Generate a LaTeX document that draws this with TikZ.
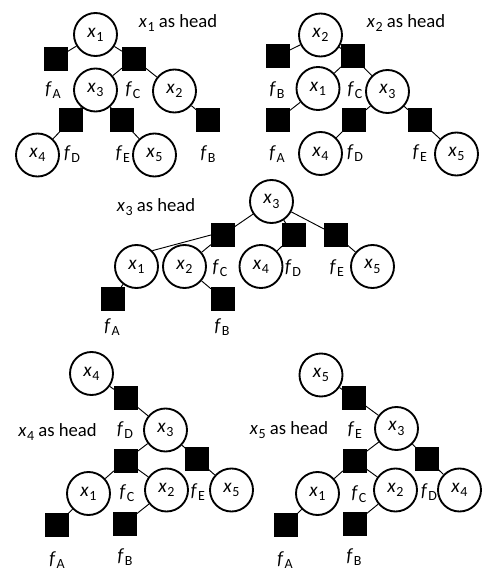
\documentclass[tikz,border=0pt]{standalone}
\usepackage{fontspec}
\setmainfont{Carlito}
\newcommand{\vsb}[2]{\textit{#1}\kern0.03em\raisebox{-0.45ex}{\fontsize{10.5}{11}\selectfont #2}}
\begin{document}
\begin{tikzpicture}[x=0.75pt,y=-0.75pt,
  var/.style={circle,draw,line width=1.4pt,minimum size=32.25pt,inner sep=0pt,font=\fontsize{14.5}{15}\selectfont},
  fac/.style={rectangle,fill=black,draw=black,minimum size=17pt,inner sep=0pt},
  lab/.style={inner sep=0pt,font=\fontsize{14}{15}\selectfont},
  edge/.style={line width=0.7pt}]
\useasboundingbox (0,0) rectangle (484,572);
% ---------- Panel 1 ----------
\node[var] (p1x1) at (95.5,34.5) {\vsb{x}{1}};
\node[fac] (p1fA) at (56,58.5) {};
\node[fac] (p1fC) at (133.5,58.5) {};
\node[var] (p1x3) at (95.5,90) {\vsb{x}{3}};
\node[var] (p1x2) at (174.5,91) {\vsb{x}{2}};
\node[fac] (p1fD) at (71,120) {};
\node[fac] (p1fE) at (121.5,120) {};
\node[fac] (p1fB) at (208,120) {};
\node[var] (p1x4) at (37.5,155) {\vsb{x}{4}};
\node[var] (p1x5) at (154.5,155) {\vsb{x}{5}};
\node[lab] (p1lA) at (53,90) {\vsb{f}{A}};
\node[lab] (p1lC) at (133,90) {\vsb{f}{C}};
\node[lab] (p1lD) at (72,154) {\vsb{f}{D}};
\node[lab] (p1lE) at (123,154) {\vsb{f}{E}};
\node[lab] (p1lB) at (208,154) {\vsb{f}{B}};
\node[lab] (p1t) at (178,23) {\vsb{x}{1} as head};
\draw[edge] (p1x1) -- (p1fA);
\draw[edge] (p1x1) -- (p1fC);
\draw[edge] (p1fC) -- (p1x3);
\draw[edge] (p1fC) -- (p1x2);
\draw[edge] (p1x3) -- (p1fD);
\draw[edge] (p1x3) -- (p1fE);
\draw[edge] (p1fD) -- (p1x4);
\draw[edge] (p1fE) -- (p1x5);
\draw[edge] (p1x2) -- (p1fB);
% ---------- Panel 2 ----------
\node[var] (p2x2) at (320.5,35) {\vsb{x}{2}};
\node[fac] (p2fB) at (277.5,56) {};
\node[fac] (p2fC) at (352.5,56) {};
\node[var] (p2x1) at (318,88.5) {\vsb{x}{1}};
\node[var] (p2x3) at (387.5,91.5) {\vsb{x}{3}};
\node[fac] (p2fA) at (277.5,120) {};
\node[fac] (p2fD) at (354,120) {};
\node[fac] (p2fE) at (419.5,120) {};
\node[var] (p2x4) at (320.5,153.5) {\vsb{x}{4}};
\node[var] (p2x5) at (456.5,154) {\vsb{x}{5}};
\node[lab] (p2lB) at (277,90) {\vsb{f}{B}};
\node[lab] (p2lC) at (355,90) {\vsb{f}{C}};
\node[lab] (p2lA) at (277,154) {\vsb{f}{A}};
\node[lab] (p2lD) at (355,153) {\vsb{f}{D}};
\node[lab] (p2lE) at (420,153) {\vsb{f}{E}};
\node[lab] (p2t) at (406,23) {\vsb{x}{2} as head};
\draw[edge] (p2x2) -- (p2fB);
\draw[edge] (p2x2) -- (p2fC);
\draw[edge] (p2fC) -- (p2x1);
\draw[edge] (p2fC) -- (p2x3);
\draw[edge] (p2x1) -- (p2fA);
\draw[edge] (p2x3) -- (p2fD);
\draw[edge] (p2fD) -- (p2x4);
\draw[edge] (p2x3) -- (p2fE);
\draw[edge] (p2fE) -- (p2x5);
% ---------- Panel 3 ----------
\node[var] (p3x3) at (271.5,201.5) {\vsb{x}{3}};
\node[fac] (p3fC) at (222.5,235) {};
\node[fac] (p3fD) at (293.5,235) {};
\node[fac] (p3fE) at (335.5,235) {};
\node[var] (p3x1) at (136.5,266.5) {\vsb{x}{1}};
\node[var] (p3x2) at (184.5,266.5) {\vsb{x}{2}};
\node[var] (p3x4) at (261,266.5) {\vsb{x}{4}};
\node[var] (p3x5) at (372.5,266.5) {\vsb{x}{5}};
\node[fac] (p3fA) at (112.5,298.5) {};
\node[fac] (p3fB) at (222.5,298.5) {};
\node[lab] (p3lC) at (220,268) {\vsb{f}{C}};
\node[lab] (p3lD) at (293,268) {\vsb{f}{D}};
\node[lab] (p3lE) at (337,268) {\vsb{f}{E}};
\node[lab] (p3lA) at (112,327) {\vsb{f}{A}};
\node[lab] (p3lB) at (222,327) {\vsb{f}{B}};
\node[lab] (p3t) at (156,207) {\vsb{x}{3} as head};
\draw[edge] (p3x3) -- (p3fC);
\draw[edge] (p3x3) -- (p3fD);
\draw[edge] (p3x3) -- (p3fE);
\draw[edge] (p3fC.west) -- (p3x1.45);
\draw[edge] (p3fC) -- (p3x2);
\draw[edge] (p3fD) -- (p3x4);
\draw[edge] (p3fE) -- (p3x5);
\draw[edge] (p3x1) -- (p3fA);
\draw[edge] (p3x2) -- (p3fB);
% ---------- Panel 4 ----------
\node[var] (p4x4) at (91.5,373.5) {\vsb{x}{4}};
\node[fac] (p4fD) at (125.5,397.5) {};
\node[var] (p4x3) at (165.5,430) {\vsb{x}{3}};
\node[fac] (p4fC) at (125.5,460.5) {};
\node[fac] (p4fE) at (197,459) {};
\node[var] (p4x1) at (88.5,493.5) {\vsb{x}{1}};
\node[var] (p4x2) at (166.5,490) {\vsb{x}{2}};
\node[var] (p4x5) at (231.5,490) {\vsb{x}{5}};
\node[fac] (p4fA) at (56.5,525) {};
\node[fac] (p4fB) at (124.5,523.5) {};
\node[lab] (p4lD) at (125,430) {\vsb{f}{D}};
\node[lab] (p4lC) at (127,493) {\vsb{f}{C}};
\node[lab] (p4lE) at (198,492) {\vsb{f}{E}};
\node[lab] (p4lA) at (57,560) {\vsb{f}{A}};
\node[lab] (p4lB) at (125,557) {\vsb{f}{B}};
\node[lab] (p4t) at (57.5,432) {\vsb{x}{4} as head};
\draw[edge] (p4x4) -- (p4fD);
\draw[edge] (p4fD) -- (p4x3);
\draw[edge] (p4x3) -- (p4fC);
\draw[edge] (p4x3) -- (p4fE);
\draw[edge] (p4fC) -- (p4x1);
\draw[edge] (p4fC) -- (p4x2);
\draw[edge] (p4fE) -- (p4x5);
\draw[edge] (p4x1) -- (p4fA);
\draw[edge] (p4x2) -- (p4fB);
% ---------- Panel 5 ----------
\node[var] (p5x5) at (321,375) {\vsb{x}{5}};
\node[fac] (p5fE) at (354,397.5) {};
\node[var] (p5x3) at (396.5,428.5) {\vsb{x}{3}};
\node[fac] (p5fC) at (354.5,460.5) {};
\node[fac] (p5fD) at (427,458.5) {};
\node[var] (p5x1) at (317.5,493.5) {\vsb{x}{1}};
\node[var] (p5x2) at (395.5,490) {\vsb{x}{2}};
\node[var] (p5x4) at (459.5,490) {\vsb{x}{4}};
\node[fac] (p5fA) at (286,525) {};
\node[fac] (p5fB) at (354.5,523.5) {};
\node[lab] (p5lE) at (355,430) {\vsb{f}{E}};
\node[lab] (p5lC) at (359,494) {\vsb{f}{C}};
\node[lab] (p5lD) at (429,492) {\vsb{f}{D}};
\node[lab] (p5lA) at (285,560) {\vsb{f}{A}};
\node[lab] (p5lB) at (354,557) {\vsb{f}{B}};
\node[lab] (p5t) at (289,430) {\vsb{x}{5} as head};
\draw[edge] (p5x5) -- (p5fE);
\draw[edge] (p5fE) -- (p5x3);
\draw[edge] (p5x3) -- (p5fC);
\draw[edge] (p5x3) -- (p5fD);
\draw[edge] (p5fC) -- (p5x1);
\draw[edge] (p5fC) -- (p5x2);
\draw[edge] (p5fD) -- (p5x4);
\draw[edge] (p5x1) -- (p5fA);
\draw[edge] (p5x2) -- (p5fB);
\end{tikzpicture}
\end{document}
